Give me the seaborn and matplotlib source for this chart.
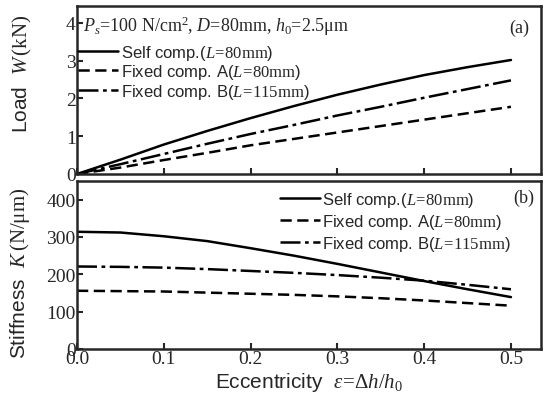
import numpy as np
import pandas as pd
import matplotlib
matplotlib.use("Agg")
import matplotlib.pyplot as plt
import seaborn as sns

# ---- data ----
ecc = [0.0, 0.05, 0.1, 0.15, 0.2, 0.25, 0.3, 0.35, 0.4, 0.45, 0.5]
series_names = ["Self comp.($L\\!=\\!\\mathrm{80mm}$)",
                "Fixed comp. A($L\\!=\\!\\mathrm{80mm}$)",
                "Fixed comp. B($L\\!=\\!\\mathrm{115mm}$)"]
load_self = [0.0, 0.38, 0.78, 1.14, 1.48, 1.80, 2.10, 2.37, 2.62, 2.83, 3.02]
load_fixA = [0.0, 0.17, 0.37, 0.56, 0.76, 0.93, 1.10, 1.27, 1.44, 1.61, 1.78]
load_fixB = [0.0, 0.26, 0.53, 0.80, 1.06, 1.30, 1.55, 1.78, 2.02, 2.25, 2.48]
stiff_self = [314, 312, 302, 289, 270, 250, 228, 205, 182, 160, 139]
stiff_fixA = [156, 155, 154, 151, 148, 145, 141, 136, 130, 123, 116]
stiff_fixB = [221, 220, 218, 214, 209, 204, 198, 191, 183, 172, 160]
xticks = [0.0, 0.1, 0.2, 0.3, 0.4, 0.5]
xtick_labels = ["0.0", "0.1", "0.2", "0.3", "0.4", "0.5"]
load_ticks = [0, 1, 2, 3, 4]
stiff_ticks = [0, 100, 200, 300, 400]

def long_df(a, b, c):
    rows = []
    for name, vals in zip(series_names, [a, b, c]):
        for x, v in zip(ecc, vals):
            rows.append({"ecc": x, "val": v, "series": name})
    return pd.DataFrame(rows)

df_load = long_df(load_self, load_fixA, load_fixB)
df_stiff = long_df(stiff_self, stiff_fixA, stiff_fixB)

sns.set_style("ticks")
plt.rcParams["font.family"] = ["Liberation Serif", "DejaVu Serif"]
plt.rcParams["mathtext.fontset"] = "custom"
plt.rcParams["mathtext.rm"] = "Liberation Serif"
plt.rcParams["mathtext.it"] = "Liberation Serif:italic"
plt.rcParams["mathtext.bf"] = "Liberation Serif:bold"
plt.rcParams["axes.linewidth"] = 1.8
plt.rcParams["xtick.direction"] = "in"
plt.rcParams["ytick.direction"] = "in"

fig = plt.figure(figsize=(5.44, 4.02), dpi=100)
W, H = 544, 402
ax1 = fig.add_axes([77 / W, 1 - 175 / H, (541 - 77) / W, (175 - 7) / H])
ax2 = fig.add_axes([77 / W, 1 - 350 / H, (541 - 77) / W, (350 - 182) / H])

lw = 1.8
dashes = {series_names[0]: "", series_names[1]: (4.5, 2.2), series_names[2]: (8, 1.8, 1.5, 1.8)}
palette = {n: "black" for n in series_names}

for ax, df in [(ax1, df_load), (ax2, df_stiff)]:
    sns.lineplot(data=df, x="ecc", y="val", hue="series", style="series",
                 hue_order=series_names, style_order=series_names,
                 palette=palette, dashes=dashes, linewidth=lw, ax=ax)
    ax.set_xlim(0, 0.5346)
    ax.set_xticks(xticks)
    ax.tick_params(axis="both", length=4, width=1.5, labelsize=14, pad=1)
    for s in ax.spines.values():
        s.set_visible(True)
        s.set_linewidth(1.8)

ax1.set_ylim(0, 4.45)
ax1.set_yticks(load_ticks)
ax1.set_xticklabels([])
ax1.set_xlabel("")
ax2.set_ylim(0, 450)
ax2.set_yticks(stiff_ticks)
ax2.set_xticklabels(xtick_labels)

ax1.set_ylabel("Load  $W\\,\\mathrm{(kN)}$", fontsize=15, family="Liberation Sans")
ax2.set_ylabel("Stiffness  $K\\,\\mathrm{(N/μm)}$", fontsize=15, family="Liberation Sans")
ax1.yaxis.set_label_coords(-0.092, 0.60)
ax2.yaxis.set_label_coords(-0.097, 0.455)
ax2.set_xlabel("Eccentricity  $\\varepsilon\\!=\\!\\Delta h/h_0$", fontsize=15, family="Liberation Sans", labelpad=2)

ax1.text(0.012, 0.885, "$P_s$=100 N/cm$^2$, $D$=80mm, $h_0$=2.5μm",
         transform=ax1.transAxes, fontsize=13, va="center", ha="left")
ax1.text(0.975, 0.87, "(a)", transform=ax1.transAxes, fontsize=13, va="center", ha="right")
ax2.text(0.985, 0.9, "(b)", transform=ax2.transAxes, fontsize=13, va="center", ha="right")

sns.move_legend(ax1, "upper left", bbox_to_anchor=(-0.03, 0.87), frameon=False, title=None,
                handlelength=2.4, handletextpad=0.15, labelspacing=0.02,
                prop={"family": "Liberation Sans", "size": 12})
sns.move_legend(ax2, "upper left", bbox_to_anchor=(0.405, 1.035), frameon=False, title=None,
                handlelength=2.4, handletextpad=0.12, labelspacing=0.18,
                prop={"family": "Liberation Sans", "size": 12})

fig.savefig("out.png", dpi=100)
